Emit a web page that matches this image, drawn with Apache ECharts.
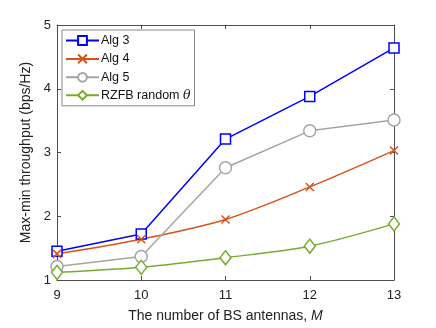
<!DOCTYPE html>
<html lang="en">
<head>
    <meta charset="UTF-8">
    <title>Max-min throughput</title>
    <script src="https://cdn.jsdelivr.net/npm/echarts@6/dist/echarts.min.js"></script>
    <style>
        html, body { margin: 0; padding: 0; background: #fff; }
        #chart { width: 436px; height: 328px; }
    </style>
</head>
<body>
<div id="chart"></div>
<script>
    // number of BS antennas
    const antennas = [9, 10, 11, 12, 13];
    // throughput values (bps/Hz)
    const alg3 = [1.45, 1.72, 3.21, 3.88, 4.64];
    const alg4 = [1.41, 1.64, 1.95, 2.46, 3.03];
    const alg5 = [1.21, 1.37, 2.76, 3.34, 3.51];
    const rzfb = [1.12, 1.20, 1.35, 1.53, 1.88];
    const yTicks = [1, 2, 3, 4, 5];

    const font = 'Liberation Sans, Arial, sans-serif';
    const axisColor = '#4d4d4d';
    const crossPath = 'path://M0,0L10,10M10,0L0,10';

    function pairs(vals) {
        return antennas.map((m, i) => [m, vals[i]]);
    }

    function mkSeries(name, vals, color, symbol, size, smooth) {
        return {
            name: name,
            type: 'line',
            data: pairs(vals),
            smooth: smooth,
            symbol: symbol,
            symbolSize: size,
            showAllSymbol: true,
            lineStyle: { color: color, width: 1.5 },
            itemStyle: { color: symbol === crossPath ? 'none' : '#fff', borderColor: color, borderWidth: 1.5 },
            emphasis: { disabled: true },
            z: 3
        };
    }

    let myChart = echarts.init(document.getElementById('chart'), null, { renderer: 'canvas' });
    let option = {
        animation: false,
        textStyle: { fontFamily: font },
        grid: { left: 57, right: 42, top: 25, bottom: 46 },
        legend: {
            orient: 'vertical',
            left: 62,
            top: 30,
            padding: [4, 4, 4, 3],
            itemGap: 5,
            itemWidth: 33,
            itemHeight: 11,
            backgroundColor: '#fff',
            borderColor: '#888',
            borderWidth: 1,
            borderRadius: 0,
            textStyle: {
                fontSize: 12.5, color: '#111', fontFamily: font, padding: [0, 0, 0, -3],
                rich: { it: { fontStyle: 'italic', fontSize: 12.5, fontFamily: 'DejaVu Serif, serif' } }
            },
            formatter: function (n) {
                return n === 'RZFB random' ? 'RZFB random {it|θ}' : n;
            },
            data: ['Alg 3', 'Alg 4', 'Alg 5', 'RZFB random']
        },
        xAxis: [{
            type: 'value',
            min: 9, max: 13, interval: 1,
            name: 'The number of BS antennas, {it|M}',
            nameLocation: 'middle',
            nameGap: 29,
            nameTextStyle: {
                fontSize: 14, color: '#222', fontFamily: font,
                rich: { it: { fontStyle: 'italic', fontSize: 14, fontFamily: font } }
            },
            axisLine: { lineStyle: { color: axisColor } },
            axisTick: { inside: true, length: 4, lineStyle: { color: axisColor } },
            axisLabel: { fontSize: 13, color: '#222', margin: 9 },
            splitLine: { show: false }
        }, {
            type: 'value', position: 'top',
            min: 9, max: 13, interval: 1,
            axisLine: { show: true, lineStyle: { color: axisColor } },
            axisTick: { inside: true, length: 4, lineStyle: { color: axisColor } },
            axisLabel: { show: false },
            splitLine: { show: false }
        }],
        yAxis: [{
            type: 'value',
            min: yTicks[0], max: yTicks[yTicks.length - 1], interval: 1,
            name: 'Max-min throughput (bps/Hz)',
            nameLocation: 'middle',
            nameGap: 18,
            nameTextStyle: { fontSize: 14, color: '#222', fontFamily: font },
            axisLine: { show: true, lineStyle: { color: axisColor } },
            axisTick: { inside: true, length: 4, lineStyle: { color: axisColor } },
            axisLabel: { fontSize: 13, color: '#222', margin: 6 },
            splitLine: { show: false }
        }, {
            type: 'value', position: 'right',
            min: yTicks[0], max: yTicks[yTicks.length - 1], interval: 1,
            axisLine: { show: true, lineStyle: { color: axisColor } },
            axisTick: { inside: true, length: 4, lineStyle: { color: axisColor } },
            axisLabel: { show: false },
            splitLine: { show: false }
        }],
        series: [
            mkSeries('Alg 3', alg3, '#0000ff', 'rect', 10, false),
            mkSeries('Alg 4', alg4, '#d95319', crossPath, 8, 0.3),
            mkSeries('Alg 5', alg5, '#a5a5a5', 'circle', 12, false),
            mkSeries('RZFB random', rzfb, '#77ac30', 'diamond', [11, 14], 0.3)
        ]
    };
    myChart.setOption(option);
</script>
</body>
</html>
